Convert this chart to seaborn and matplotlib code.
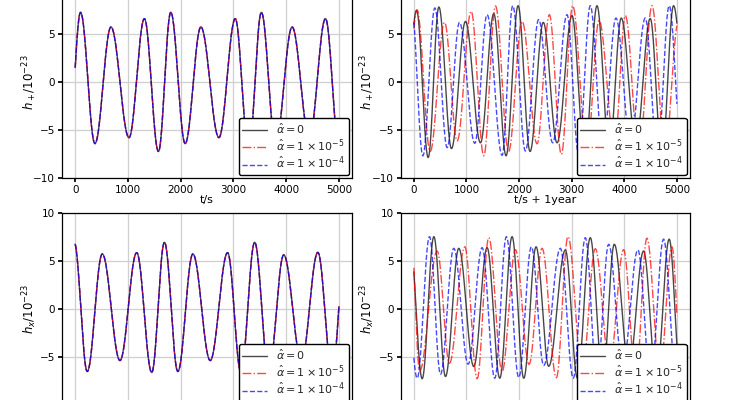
import numpy as np
import pandas as pd
import seaborn as sns
import matplotlib.pyplot as plt

# extrema (time in s, strain in 1e-23), one list per curve
# left panels: the three curves sit on top of each other
tl_t = [-130, 101, 374, 678, 1020, 1312, 1578, 1812, 2085, 2383, 2725, 3035, 3289, 3530, 3800, 4113, 4440, 4746, 5010]
tl_y = [-7.0, 7.24, -6.38, 5.72, -5.76, 6.59, -7.2, 7.24, -6.38, 5.72, -5.76, 6.59, -7.2, 7.24, -6.38, 5.72, -5.76, 6.59, -7.2]

bl_t = [-19, 228, 513, 849, 1166, 1451, 1692, 1946, 2231, 2560, 2890, 3143, 3403, 3669, 3954, 4290, 4601, 4873, 5125]
bl_y = [6.97, -6.55, 5.75, -5.4, 5.89, -6.65, 6.97, -6.55, 5.75, -5.4, 5.89, -6.65, 6.97, -6.55, 5.65, -5.4, 5.92, -6.65, 6.97]

# top right (one year later)
tr0_t = [-200, 51, 272, 475, 715, 981, 1266, 1519, 1753, 1981, 2209, 2460, 2722, 3006, 3250, 3481, 3715, 3943, 4220, 4494, 4715, 4937, 5220]
tr0_y = [-7.0, 7.45, -7.83, 7.8, -6.9, 6.3, -6.3, 7.1, -7.65, 7.93, -7.2, 6.2, -6.3, 6.9, -7.8, 7.93, -7.1, 6.65, -6.3, 6.6, -7.7, 7.93, -7.5]
tr5_t = [-190, 60, 310, 583, 823, 1089, 1329, 1552, 1800, 2057, 2342, 2576, 2804, 3019, 3290, 3520, 3817, 4020, 4280, 4527, 4770, 5030]
tr5_y = [-7.0, 7.5, -7.2, 6.2, -6.1, 7.35, -7.65, 7.9, -7.2, 6.3, -6.4, 7.0, -7.5, 7.93, -7.2, 6.4, -6.3, 6.9, -7.6, 7.93, -7.2, 6.3]
tr4_t = [-40, 171, 399, 633, 867, 1158, 1392, 1677, 1880, 2120, 2373, 2639, 2911, 3133, 3354, 3590, 3842, 4120, 4399, 4630, 4854, 5090]
tr4_y = [7.5, -7.65, 7.7, -6.8, 6.2, -6.35, 7.0, -7.6, 7.93, -7.15, 6.5, -6.3, 7.0, -7.5, 7.93, -7.0, 6.65, -6.3, 6.65, -7.6, 7.93, -7.0]

# bottom right
br0_t = [-75, 158, 380, 601, 854, 1139, 1392, 1633, 1867, 2089, 2323, 2563, 2880, 3110, 3354, 3590, 3810, 4090, 4367, 4610, 4854, 5070]
br0_y = [7.3, -7.3, 7.56, -7.07, 6.34, -6.03, 6.41, -7.25, 7.56, -7.25, 6.5, -6.0, 6.17, -7.25, 7.45, -7.2, 6.76, -6.0, 6.06, -7.25, 7.3, -7.2]
br5_t = [-50, 110, 443, 677, 968, 1203, 1424, 1677, 1930, 2190, 2437, 2709, 2930, 3200, 3449, 3720, 3987, 4220, 4430, 4680, 4905, 5090]
br5_y = [7.4, -6.5, 6.06, -5.68, 6.5, -7.3, 7.45, -6.55, 6.2, -5.8, 6.34, -7.2, 7.56, -6.5, 6.3, -5.8, 6.2, -7.2, 7.4, -6.5, 6.5, -7.2]
br4_t = [-180, 63, 297, 506, 759, 1032, 1297, 1538, 1759, 1994, 2234, 2468, 2785, 3030, 3259, 3480, 3703, 3970, 4259, 4500, 4747, 4985, 5230]
br4_y = [6.4, -7.25, 7.56, -6.83, 6.34, -5.78, 6.41, -7.25, 7.56, -7.18, 6.5, -5.92, 6.34, -7.25, 7.45, -7.1, 6.76, -5.9, 6.17, -7.2, 7.3, -7.1, 7.5]

labels = [r"$\hat{\alpha}=0$", r"$\hat{\alpha}=1\times10^{-5}$", r"$\hat{\alpha}=1\times10^{-4}$"]
colors = ["#000000", "#ff0000", "#0000ff"]
styles = ["-", "-.", "--"]


def wave(t_ext, y_ext, t):
    # join neighbouring extrema with half cosines
    t_ext = np.asarray(t_ext, float)
    y_ext = np.asarray(y_ext, float)
    i = np.clip(np.searchsorted(t_ext, t, side="right") - 1, 0, len(t_ext) - 2)
    f = (t - t_ext[i]) / (t_ext[i + 1] - t_ext[i])
    return y_ext[i] + (y_ext[i + 1] - y_ext[i]) * (1 - np.cos(np.pi * f)) / 2


sns.set_theme(style="whitegrid", rc={
    "axes.edgecolor": "black",
    "axes.linewidth": 0.9,
    "grid.color": "#cfcfcf",
    "grid.linewidth": 0.9,
    "xtick.bottom": True,
    "ytick.left": True,
    "xtick.color": "black",
    "ytick.color": "black",
    "xtick.major.size": 3.0,
    "ytick.major.size": 3.0,
    "xtick.major.pad": 2.0,
    "ytick.major.pad": 2.0,
    "xtick.labelsize": 7.5,
    "ytick.labelsize": 7.5,
    "axes.labelsize": 8,
    "legend.fontsize": 8,
    "axes.labelcolor": "black",
})
plt.rcParams["font.family"] = ["DejaVu Sans"]

t = np.linspace(0, 5000, 2501)

fig = plt.figure(figsize=(7.35, 4.0), dpi=100)
pos = {
    "tl": [0.0844, 0.5538, 0.3946, 0.4818],
    "tr": [0.5452, 0.5538, 0.3936, 0.4818],
    "bl": [0.0844, -0.0113, 0.3946, 0.478],
    "br": [0.5452, -0.0113, 0.3936, 0.478],
}
panels = {
    "tl": [(tl_t, tl_y)] * 3,
    "tr": [(tr0_t, tr0_y), (tr5_t, tr5_y), (tr4_t, tr4_y)],
    "bl": [(bl_t, bl_y)] * 3,
    "br": [(br0_t, br0_y), (br5_t, br5_y), (br4_t, br4_y)],
}
xlabels = {"tl": "t/s", "tr": "t/s + 1year", "bl": "t/s", "br": "t/s + 1year"}
ylabels = {"tl": r"$h_+/10^{-23}$", "tr": r"$h_+/10^{-23}$",
           "bl": r"$h_x/10^{-23}$", "br": r"$h_x/10^{-23}$"}

for key, box in pos.items():
    ax = fig.add_axes(box)
    for (te, ye), lab, c, ls in zip(panels[key], labels, colors, styles):
        df = pd.DataFrame({"t": t, "h": wave(te, ye, t)})
        sns.lineplot(data=df, x="t", y="h", ax=ax, color=c, linestyle=ls,
                     lw=1.0, alpha=0.72, label=lab, estimator=None, sort=False)
    ax.set_ylim(-10, 10)
    ax.set_yticks([-10, -5, 0, 5, 10])
    ax.set_xticks([0, 1000, 2000, 3000, 4000, 5000])
    ax.set_xlim(-250, 5250)
    ax.set_xlabel(xlabels[key], labelpad=0)
    ax.set_ylabel(ylabels[key], fontsize=8.5, labelpad=-4)
    ax.legend(loc="lower right", frameon=True, framealpha=1, edgecolor="black",
              fancybox=True, borderaxespad=0.3, labelspacing=0.15,
              handlelength=2.2, borderpad=0.35)

fig.savefig("out.png", dpi=100)
